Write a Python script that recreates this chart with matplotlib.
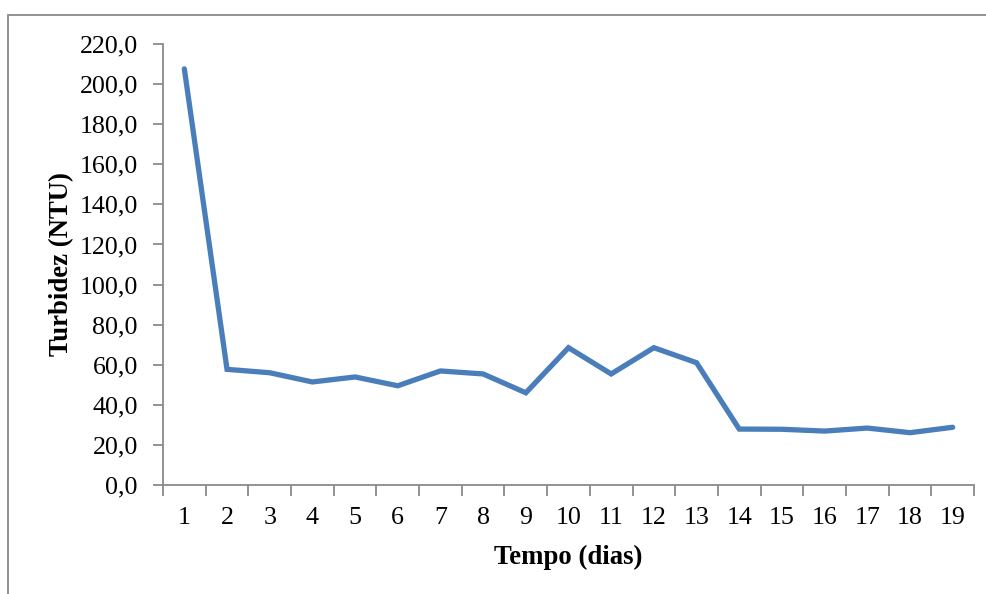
import matplotlib
matplotlib.use("Agg")
import matplotlib.pyplot as plt
from matplotlib.patches import Rectangle
from matplotlib.ticker import FixedLocator, NullFormatter

plt.rcParams['font.family'] = ['Liberation Serif', 'DejaVu Serif']

days = list(range(1, 20))
turbidity = [207.6, 57.7, 56.0, 51.4, 53.9, 49.5, 56.9, 55.4, 46.0, 68.5,
             55.4, 68.5, 61.0, 27.9, 27.8, 26.9, 28.4, 26.1, 28.8]
y_ticks = [0, 20, 40, 60, 80, 100, 120, 140, 160, 180, 200, 220]
y_tick_labels = [f"{v:.1f}".replace(".", ",") for v in y_ticks]

W, H = 987, 594
fig = plt.figure(figsize=(W / 100, H / 100), dpi=100)

# chart area frame
fig.patches.append(Rectangle((8 / W, -0.1), 1.2, (H - 15) / H + 0.1,
                             transform=fig.transFigure, fill=False,
                             edgecolor="#8a8a8a", linewidth=1.3))

ax = fig.add_axes([163 / W, (H - 485) / H, (974 - 163) / W, (485 - 44) / H])
ax.plot(days, turbidity, color="#4a7ebb", linewidth=3.8,
        solid_joinstyle="miter", solid_capstyle="round")

ax.set_xlim(0.5, 19.5)
ax.set_ylim(0, 220)

ax.set_yticks(y_ticks)
ax.set_yticklabels(y_tick_labels)

# category boundaries carry the tick marks, labels sit at category centres
ax.xaxis.set_major_locator(FixedLocator([d - 0.5 for d in days] + [19.5]))
ax.xaxis.set_major_formatter(NullFormatter())
ax.xaxis.set_minor_locator(FixedLocator(days))
ax.set_xticklabels([str(d) for d in days], minor=True)
ax.tick_params(axis="x", which="minor", length=0, pad=16, labelsize=18.7)
ax.tick_params(axis="x", which="major", length=8, width=1.3, color="#8a8a8a")
ax.tick_params(axis="y", length=7, width=1.3, color="#8a8a8a", pad=11, labelsize=18.7)

for side in ("top", "right"):
    ax.spines[side].set_visible(False)
for side in ("left", "bottom"):
    ax.spines[side].set_color("#8a8a8a")
    ax.spines[side].set_linewidth(1.3)

ax.set_xlabel("Tempo (dias)", fontsize=19.3, fontweight="bold", labelpad=11)
ax.set_ylabel("Turbidez (NTU)", fontsize=19.3, fontweight="bold", labelpad=4)

fig.savefig("out.png", dpi=100)
